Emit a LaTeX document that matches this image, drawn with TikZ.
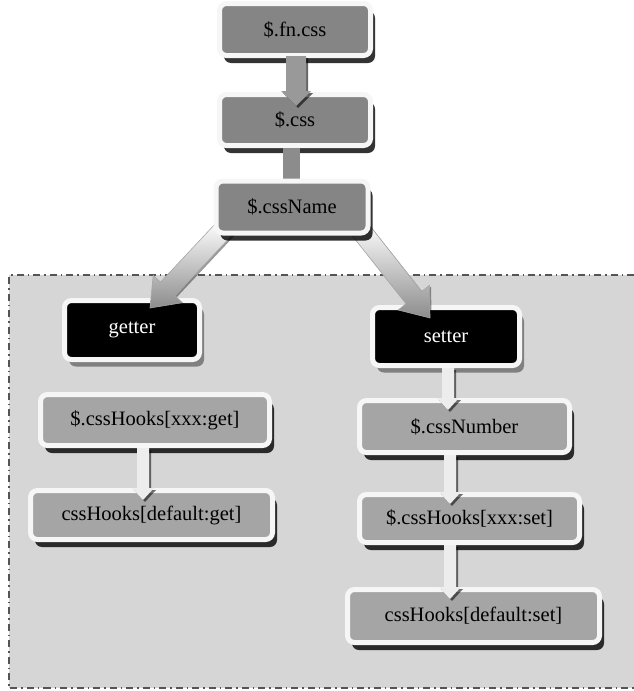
\documentclass[tikz,border=0pt]{standalone}
\usepackage{fontspec}
\setmainfont{Liberation Serif}
\usetikzlibrary{calc,shadows}

\pgfdeclarelayer{panel}
\pgfdeclarelayer{arrows}
\pgfdeclarelayer{top}
\pgfsetlayers{panel,main,arrows,top}

\definecolor{topgray}{HTML}{858585}
\definecolor{lowgray}{HTML}{A5A5A5}
\definecolor{panelgray}{HTML}{D6D6D6}
\definecolor{rim}{HTML}{F6F6F6}
\definecolor{rule}{HTML}{555555}

\tikzset{
  card/.style={draw=rim, line width=5pt, rounded corners=7pt, inner sep=2pt,
    font=\fontsize{20.5}{24}\selectfont},
  upper/.style={card, fill=topgray, text=black,
    drop shadow={shadow xshift=4.5pt, shadow yshift=-7.5pt, fill=black, opacity=0.8}},
  lower/.style={card, fill=lowgray, text=black,
    drop shadow={shadow xshift=4.5pt, shadow yshift=-7.5pt, fill=black, opacity=0.8}},
  blackbox/.style={card, fill=black, text=white,
    drop shadow={shadow xshift=4.5pt, shadow yshift=-7pt, fill=black, opacity=0.4}},
  panelfill/.style={fill=panelgray},
  panelrule/.style={draw=rule, line width=1.6pt, dash pattern=on 7pt off 4pt on 1.5pt off 4pt},
  grayarrow/.style={fill=black!40, drop shadow={shadow xshift=2pt, shadow yshift=-2pt, fill=black, opacity=0.6}},
  barlink/.style={fill=black!45},
  fanarrow/.style={top color=white, bottom color=black!45, draw=black!35, line width=0.6pt,
    drop shadow={shadow xshift=1.5pt, shadow yshift=-1.5pt, fill=black, opacity=0.4}},
  lightarrow/.style={fill=white!93!black,
    drop shadow={shadow xshift=2pt, shadow yshift=-2pt, fill=black, opacity=0.55}},
}

% block arrow: #1 tail, #2 tip, #3 half shaft, #4 half head, #5 head length, #6 style
\newcommand\blockarrow[6]{%
  \coordinate (ba-base) at ($(#2)!#5!(#1)$);
  \path[#6] ($(#1)!#3!90:(#2)$) -- ($(ba-base)!#3!90:(#2)$)
    -- ($(ba-base)!#4!90:(#2)$) -- (#2) -- ($(ba-base)!#4!-90:(#2)$)
    -- ($(ba-base)!#3!-90:(#2)$) -- ($(#1)!#3!-90:(#2)$) -- cycle;}

\begin{document}
\begin{tikzpicture}[x=1pt,y=-1pt]
\useasboundingbox (0,0) rectangle (634,691);

% dashed region holding getter and setter branches
\begin{pgfonlayer}{panel}
  \fill[panelfill] (9,275) rectangle (634,688);
  \draw[panelrule] (634,275) -- (9,275) -- (9,688) -- (634,688);
\end{pgfonlayer}

% call chain
\node[upper, minimum width=151pt, minimum height=52pt] (fncss) at (295,29.5) {\$.fn.css};
\node[upper, minimum width=151pt, minimum height=51pt] (css) at (295,120) {\$.css};
\begin{pgfonlayer}{top}
  \node[upper, minimum width=152pt, minimum height=52pt] (cssname) at (292,207) {\$.cssName};
\end{pgfonlayer}

% getter branch
\node[blackbox, minimum width=135pt, minimum height=59pt] (getter) at (132,330) {getter};
\node[lower, minimum width=229pt, minimum height=51pt] (getxxx) at (155,420) {\$.cssHooks[xxx:get]};
\node[lower, minimum width=242pt, minimum height=49pt] (getdef) at (151.5,515) {cssHooks[default:get]};

% setter branch
\node[blackbox, minimum width=147pt, minimum height=58pt] (setter) at (446,336.5) {setter};
\node[lower, minimum width=210pt, minimum height=52pt] (number) at (464.5,426.5) {\$.cssNumber};
\node[lower, minimum width=220pt, minimum height=48pt] (setxxx) at (469.5,518.5) {\$.cssHooks[xxx:set]};
\node[lower, minimum width=252pt, minimum height=53pt] (setdef) at (473.5,616) {cssHooks[default:set]};

\begin{pgfonlayer}{arrows}
  % $.fn.css -> $.css
  \coordinate (t1) at ($(fncss.south)+(1,-2)$);
  \coordinate (h1) at ($(css.north)+(1,14)$);
  \blockarrow{t1}{h1}{10pt}{15pt}{15pt}{grayarrow}
  % $.css -- $.cssName
  \fill[barlink] ($(css.south)+(-12,0)$) rectangle ($(cssname.north)+(8,0)$);
  % $.cssName -> getter / setter
  \coordinate (t2) at ($(cssname.south west)+(12,-8)$);
  \coordinate (h2) at ($(getter.north)+(18,10)$);
  \blockarrow{t2}{h2}{10pt}{20pt}{26pt}{fanarrow}
  \coordinate (t3) at ($(cssname.south east)+(-12,-8)$);
  \coordinate (h3) at ($(setter.north)+(-16,13)$);
  \blockarrow{t3}{h3}{10pt}{20pt}{26pt}{fanarrow}
  % getter chain
  \coordinate (t4) at ($(getxxx.south)+(-12,0)$);
  \coordinate (h4) at ($(getdef.north)+(-8.5,12)$);
  \blockarrow{t4}{h4}{6pt}{11pt}{12pt}{lightarrow}
  % setter chain
  \coordinate (t5) at ($(setter.south)+(2,0)$);
  \coordinate (h5) at ($(number.north)+(-16.5,12)$);
  \blockarrow{t5}{h5}{6pt}{11pt}{12pt}{lightarrow}
  \coordinate (t6) at ($(number.south)+(-14.5,0)$);
  \coordinate (h6) at ($(setxxx.north)+(-19.5,12)$);
  \blockarrow{t6}{h6}{6pt}{11pt}{12pt}{lightarrow}
  \coordinate (t7) at ($(setxxx.south)+(-19.5,0)$);
  \coordinate (h7) at ($(setdef.north)+(-23.5,12)$);
  \blockarrow{t7}{h7}{6pt}{11pt}{12pt}{lightarrow}
\end{pgfonlayer}
\end{tikzpicture}
\end{document}
